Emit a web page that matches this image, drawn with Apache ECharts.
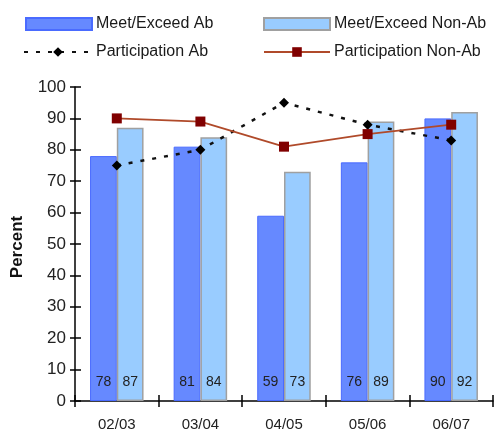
<!DOCTYPE html>
<html><head><meta charset="utf-8">
<script src="https://cdn.jsdelivr.net/npm/echarts@6/dist/echarts.min.js"></script>
<style>html,body{margin:0;padding:0;background:#fff}#c{width:495px;height:432px}</style>
</head><body><div id="c"></div>
<script>
const categories = ['02/03','03/04','04/05','05/06','06/07'];
const meetAb = [78, 81, 59, 76, 90];
const meetNonAb = [87, 84, 73, 89, 92];
const partAb = [75, 80, 95, 88, 83];
const partNonAb = [90, 89, 81, 85, 88];
const yTicks = [0,10,20,30,40,50,60,70,80,90,100];

const FONT = '"Liberation Sans", Arial, sans-serif';
const chart = echarts.init(document.getElementById('c'), null, {renderer:'canvas'});
const grid = {left:75, right:2, top:87, bottom:31};
const barLabel = {show:true, position:'insideBottom', distance:12, color:'#222', fontSize:14, fontFamily:FONT};
const legText = {fontSize:16, color:'#1a1a1a', fontFamily:FONT, padding:[0,0,0,-1]};
chart.setOption({
  animation:false,
  textStyle:{fontFamily:FONT},
  grid: grid,
  legend: [
    {data:[{name:'Meet/Exceed Ab', icon:'rect'}], left:20, top:11, itemWidth:66, itemHeight:12, textStyle:legText},
    {data:[{name:'Meet/Exceed Non-Ab', icon:'rect'}], left:258, top:11, itemWidth:66, itemHeight:12, textStyle:legText},
    {data:['Participation Ab'], left:18, top:39, itemWidth:68, itemHeight:12, textStyle:legText},
    {data:['Participation Non-Ab'], left:258, top:39, itemWidth:66, itemHeight:12, textStyle:legText}
  ],
  xAxis: [
    {type:'category', data:categories, boundaryGap:true,
     axisLine:{lineStyle:{color:'#000', width:1.5}},
     axisTick:{show:true, length:6, lineStyle:{color:'#000', width:1.5}},
     axisLabel:{color:'#222', fontSize:15, margin:16, fontFamily:FONT}},
    {type:'category', data:categories, position:'bottom', boundaryGap:true,
     axisLine:{show:false}, axisLabel:{show:false},
     axisTick:{show:true, inside:true, length:6, lineStyle:{color:'#000', width:1.5}}}
  ],
  yAxis: [
    {type:'value', min:0, max:100, interval:10,
     axisLine:{show:true, lineStyle:{color:'#000', width:1.5}},
     axisTick:{show:true, length:5, lineStyle:{color:'#000', width:1.5}},
     splitLine:{show:false},
     axisLabel:{color:'#222', fontSize:17, margin:9, fontFamily:FONT,
       formatter:(v)=> yTicks.includes(v) ? String(v) : ''},
     name:'Percent', nameLocation:'middle', nameGap:49, nameRotate:90,
     nameTextStyle:{fontSize:17, fontWeight:'bold', color:'#111', fontFamily:FONT, padding:[0,6,0,0]}},
    {type:'value', min:0, max:100, interval:10, position:'left',
     axisLine:{show:false}, axisLabel:{show:false}, splitLine:{show:false},
     axisTick:{show:true, inside:true, length:6, lineStyle:{color:'#000', width:1.5}}}
  ],
  series: [
    {name:'Meet/Exceed Ab', type:'bar', data:meetAb, barGap:'0%', barCategoryGap:'36%',
     itemStyle:{color:'#6689FF', borderColor:'#4A6BFF', borderWidth:1}, label:barLabel, z:2},
    {name:'Meet/Exceed Non-Ab', type:'bar', data:meetNonAb, barGap:'0%', barCategoryGap:'36%',
     itemStyle:{color:'#99CCFF', borderColor:'#A0A0A0', borderWidth:1.5}, label:barLabel, z:2},
    {name:'Participation Ab', type:'line', data:partAb, symbol:'diamond', symbolSize:10,
     lineStyle:{color:'#111', width:2.5, type:[4,8]}, itemStyle:{color:'#000'}, z:5},
    {name:'Participation Non-Ab', type:'line', data:partNonAb, symbol:'rect', symbolSize:10,
     lineStyle:{color:'#B04A2A', width:1.8}, itemStyle:{color:'#800000'}, z:6}
  ]
});
</script></body></html>
